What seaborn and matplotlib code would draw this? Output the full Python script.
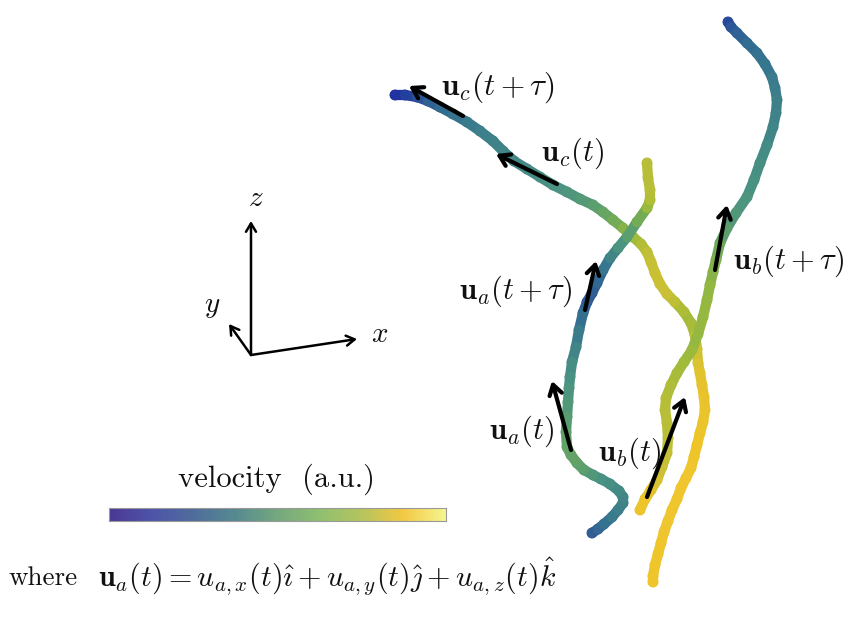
import numpy as np
import pandas as pd
import matplotlib
matplotlib.use('Agg')
import matplotlib.pyplot as plt
from matplotlib.colors import LinearSegmentedColormap
import seaborn as sns

# Tracks (pixel coordinates, velocity 0-1)
track_c_x = [395, 405, 417, 428, 440, 453, 467, 480, 493, 503, 514, 527, 540, 553, 567, 580, 593, 603, 613, 623, 633, 641, 647, 651, 655, 660, 667, 675, 684, 691, 695, 697, 698,
             700, 702, 704, 705, 703, 700, 697, 694, 691, 686, 681, 677, 672, 668, 664, 661, 658, 655, 653, 653]
track_c_y = [95, 95, 97, 101, 107, 114, 122, 131, 141, 151, 161, 169, 177, 185, 192, 199, 205, 212, 220, 228, 237, 244, 252, 262, 273, 284, 294, 302, 312, 323, 335, 349, 363,
             373, 385, 397, 410, 422, 433, 445, 457, 468, 478, 488, 499, 510, 521, 532, 543, 554, 565, 576, 582]
track_c_v = [0.02, 0.04, 0.09, 0.15, 0.20, 0.23, 0.26, 0.28, 0.30, 0.31, 0.32, 0.33, 0.34, 0.36, 0.38, 0.40, 0.42, 0.45, 0.49, 0.53, 0.60, 0.66, 0.71, 0.74, 0.75, 0.76, 0.74, 0.70, 0.64, 0.62, 0.68, 0.75, 0.80,
             0.82, 0.84, 0.85, 0.86, 0.86, 0.87, 0.87, 0.88, 0.89, 0.90, 0.90, 0.90, 0.90, 0.89, 0.89, 0.88, 0.88, 0.88, 0.88, 0.88]

track_a_x = [592, 598, 604, 612, 618, 623, 623, 619, 610, 601, 593, 584, 577, 571, 567, 566, 567, 568, 569, 570, 572, 576, 579, 583, 587, 592, 597, 603, 610, 618, 627, 637, 647, 650, 650, 648, 647]
track_a_y = [533, 529, 524, 517, 510, 503, 497, 491, 484, 479, 475, 470, 463, 455, 447, 432, 417, 402, 388, 377, 362, 347, 330, 313, 302, 293, 283, 270, 258, 248, 237, 222, 208, 200, 190, 178, 163]
track_a_v = [0.14, 0.18, 0.22, 0.26, 0.28, 0.30, 0.31, 0.32, 0.34, 0.36, 0.38, 0.42, 0.45, 0.46, 0.46, 0.43, 0.41, 0.39, 0.37, 0.36, 0.33, 0.30, 0.26, 0.20, 0.14, 0.15, 0.18, 0.23, 0.28, 0.35, 0.40, 0.47, 0.56, 0.66, 0.70, 0.70, 0.70]

track_b_x = [640, 645, 651, 657, 662, 667, 668, 667, 665, 666, 671, 677, 684, 692, 698, 703, 707, 710, 713, 716, 720, 727, 736, 747, 754, 760, 767, 773, 776, 777, 775, 772, 765, 757, 747, 737, 731, 728]
track_b_y = [510, 499, 490, 480, 467, 453, 438, 423, 410, 398, 385, 373, 362, 350, 334, 317, 300, 285, 272, 260, 243, 228, 213, 197, 180, 163, 145, 127, 113, 100, 88, 77, 64, 53, 43, 33, 27, 22]
track_b_v = [0.88, 0.86, 0.82, 0.78, 0.75, 0.72, 0.71, 0.70, 0.70, 0.69, 0.66, 0.64, 0.62, 0.60, 0.60, 0.60, 0.60, 0.58, 0.56, 0.53, 0.47, 0.41, 0.39, 0.37, 0.36, 0.35, 0.33, 0.31, 0.30, 0.29, 0.28, 0.27, 0.25, 0.23, 0.20, 0.16, 0.11, 0.08]

# Arrows: tail x, tail y, head x, head y
velocity_arrows = [(463, 116, 409, 86), (557, 184, 496, 154), (585, 310, 596, 261),
                   (571, 450, 552, 381), (647, 497, 685, 397), (715, 270, 727, 205)]
axis_arrows = [(251, 355, 251, 221), (251, 355, 229, 324), (251, 355, 357, 339)]

bar_tick_positions = [0.279, 0.433, 0.585, 0.739]

track_colors = ['#1c2aa4', '#2c5596', '#36758f', '#4b9480', '#6faa5a', '#9fbb3a', '#c8c035', '#eec42a', '#f2cf3a']
bar_colors = ['#4b3795', '#4d54a8', '#4f6c9c', '#568a90', '#74a87e', '#8fbf70', '#b5c45e', '#f3c843', '#f4f590']
track_cmap = LinearSegmentedColormap.from_list('track', track_colors)
bar_cmap = LinearSegmentedColormap.from_list('bar', bar_colors)

sns.set_theme(style='white')
plt.rcParams['mathtext.fontset'] = 'cm'
plt.rcParams['font.family'] = ['cmr10']
plt.rcParams['axes.formatter.use_mathtext'] = True

fig = plt.figure(figsize=(8.5, 6.18), dpi=100)
ax = fig.add_axes([0, 0, 1, 1])


def draw_track(xs, ys, vs):
    # one short line per segment so the colour can change along the track
    rows = []
    for i in range(len(xs) - 1):
        v = (vs[i] + vs[i + 1]) / 2
        rows.append({'x': xs[i], 'y': ys[i], 'v': v, 'seg': i})
        rows.append({'x': xs[i + 1], 'y': ys[i + 1], 'v': v, 'seg': i})
    df = pd.DataFrame(rows)
    sns.lineplot(data=df, x='x', y='y', hue='v', units='seg', estimator=None, sort=False,
                 palette=track_cmap, hue_norm=(0, 1), linewidth=7.4, legend=False,
                 solid_capstyle='round', ax=ax)
    # beads at the read points, they give the track its knobbly edge
    points = pd.DataFrame({'x': xs, 'y': ys, 'v': vs})
    sns.scatterplot(data=points, x='x', y='y', hue='v', palette=track_cmap, hue_norm=(0, 1),
                    s=62, linewidth=0, legend=False, ax=ax)


draw_track(track_c_x, track_c_y, track_c_v)
draw_track(track_a_x, track_a_y, track_a_v)
draw_track(track_b_x, track_b_y, track_b_v)

for x0, y0, x1, y1 in velocity_arrows:
    ax.annotate('', xy=(x1, y1), xytext=(x0, y0),
                arrowprops=dict(arrowstyle='->,head_length=0.6,head_width=0.38', color='black',
                                lw=3, shrinkA=0, shrinkB=0))
for x0, y0, x1, y1 in axis_arrows:
    ax.annotate('', xy=(x1, y1), xytext=(x0, y0),
                arrowprops=dict(arrowstyle='->,head_length=0.5,head_width=0.3', color='black',
                                lw=1.8, shrinkA=0, shrinkB=0))

ax.set_xlim(0, 850)
ax.set_ylim(618, 0)
ax.set_xlabel('')
ax.set_ylabel('')
ax.axis('off')

labels = [
    (441, 87, r'$\mathbf{u}_c(t+\tau)$', 22.5),
    (541, 153, r'$\mathbf{u}_c(t)$', 22),
    (733, 261, r'$\mathbf{u}_b(t+\tau)$', 22),
    (459, 291, r'$\mathbf{u}_a(t+\tau)$', 22),
    (489, 431, r'$\mathbf{u}_a(t)$', 22),
    (598, 453, r'$\mathbf{u}_b(t)$', 22),
    (248, 199, r'$z$', 21),
    (204, 307, r'$y$', 21),
    (371, 335, r'$x$', 21),
    (98, 577, r'$\mathbf{u}_a(t)=u_{a,x}(t)\hat{\imath}+u_{a,y}(t)\hat{\jmath}+u_{a,z}(t)\hat{k}$', 21.6),
]
for x, y, s, size in labels:
    ax.text(x, y, s, fontsize=size, ha='left', va='center', color='#111111')
ax.text(9, 578, 'where', fontsize=19.5, ha='left', va='center', color='#111111')
ax.text(178, 479, 'velocity  (a.u.)', fontsize=22, ha='left', va='center', color='#111111')

# colour bar along the bottom, drawn as a one row heatmap
bar_ax = fig.add_axes([109 / 850, 1 - 521 / 618, 337 / 850, 13 / 618])
sns.heatmap(np.linspace(0, 1, 256).reshape(1, -1), cmap=bar_cmap, vmin=0, vmax=1, cbar=False,
            xticklabels=False, yticklabels=False, ax=bar_ax)
bar_ax.set_xticks([p * 256 for p in bar_tick_positions])
bar_ax.set_xticklabels([])
bar_ax.tick_params(axis='x', direction='in', length=2, width=0.6, color='#777777', bottom=True)
for spine in bar_ax.spines.values():
    spine.set_visible(True)
    spine.set_color('#999999')
    spine.set_linewidth(0.8)

fig.savefig('out.png', dpi=100, facecolor='white')
